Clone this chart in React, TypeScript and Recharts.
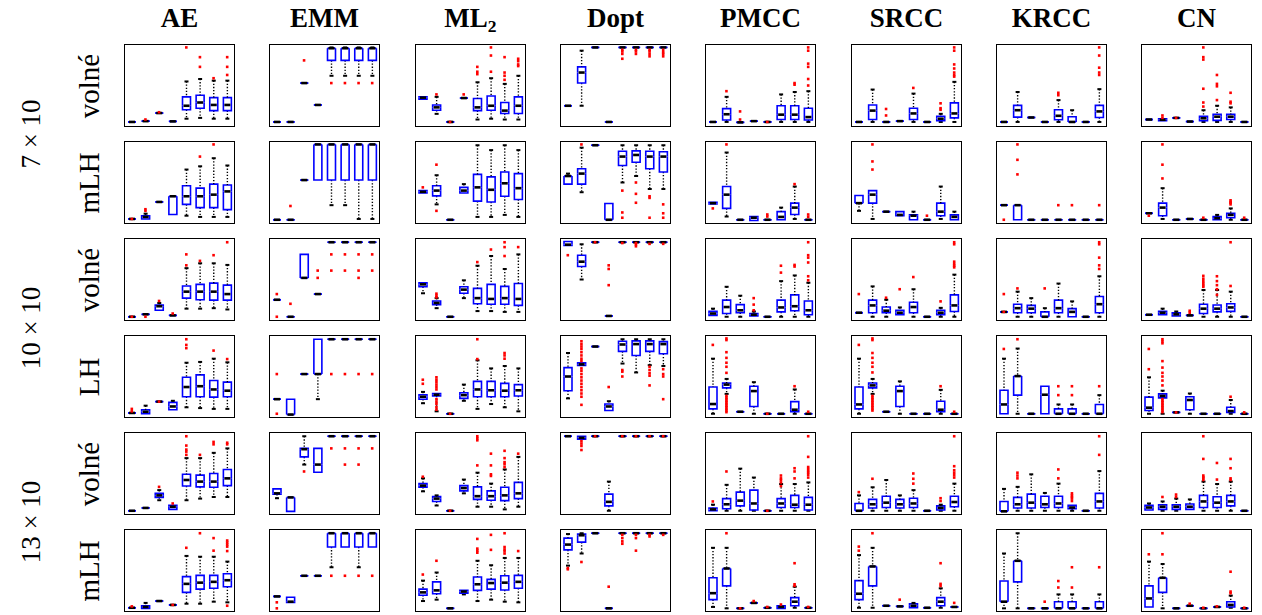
import React from 'react';
import { ComposedChart, XAxis, YAxis, Bar, Scatter } from 'recharts';

// box = [lowWhisker, q1, median, q3, highWhisker, outliers?] on a 0..1 scale
type Box = [number, number, number, number, number, number[]?];
const F = (v: number, o?: number[]): Box => [v, v, v, v, v, o];

const COLUMNS = ['AE', 'EMM', 'ML2', 'Dopt', 'PMCC', 'SRCC', 'KRCC', 'CN'];
const ROW_LABELS = ['volné', 'mLH', 'volné', 'LH', 'volné', 'mLH'];
const GROUP_LABELS = ['7 × 10', '10 × 10', '13 × 10'];
const X_TICKS = [1, 2, 3, 4, 5, 6, 7, 8];

// ---- 7 x 10, volné
const ae7v: Box[] = [F(0.05), F(0.06, [0.08]), F(0.16, [0.17]), F(0.057),
  [0.09, 0.2, 0.25, 0.36, 0.55, [0.97]], [0.1, 0.22, 0.29, 0.38, 0.58, [0.85, 0.73]],
  [0.09, 0.19, 0.26, 0.35, 0.56, [0.59]], [0.09, 0.19, 0.26, 0.35, 0.56, [0.85, 0.73, 0.63]]];
const emm7v: Box[] = [F(0.05), F(0.05), F(0.53, [0.81]), F(0.26),
  [0.62, 0.81, 0.96, 0.96, 0.97, [0.53]], [0.62, 0.81, 0.96, 0.96, 0.97, [0.53]],
  [0.62, 0.81, 0.96, 0.96, 0.97, [0.53]], [0.62, 0.81, 0.96, 0.96, 0.97, [0.53]]];
const ml7v: Box[] = [[0.33, 0.33, 0.35, 0.36, 0.36], [0.15, 0.195, 0.23, 0.26, 0.36, [0.39]], F(0.05, [0.05]), F(0.345, [0.39]),
  [0.08, 0.19, 0.23, 0.34, 0.54, [0.73, 0.67, 0.64]], [0.09, 0.195, 0.25, 0.37, 0.59, [0.97, 0.87, 0.67]],
  [0.08, 0.155, 0.19, 0.29, 0.52, [0.85, 0.66, 0.62, 0.57]], [0.08, 0.155, 0.25, 0.36, 0.62, [0.83, 0.8, 0.76, 0.74]]];
const dopt7v: Box[] = [F(0.25), [0.25, 0.53, 0.66, 0.73, 0.93], F(0.97), F(0.05),
  F(0.97, [0.94, 0.92, 0.89, 0.83]), F(0.97, [0.94, 0.92, 0.89]),
  F(0.97, [0.94, 0.92, 0.89, 0.86]), F(0.97, [0.94, 0.91, 0.89, 0.86])];
const pmcc7v: Box[] = [F(0.05), [0.05, 0.075, 0.145, 0.215, 0.36, [0.43]], F(0.045, [0.18, 0.08]), F(0.06),
  F(0.05, [0.05]), [0.05, 0.08, 0.14, 0.25, 0.39], [0.05, 0.08, 0.14, 0.25, 0.42, [0.53, 0.51]],
  [0.05, 0.075, 0.11, 0.22, 0.43, [0.97, 0.93, 0.77, 0.73, 0.58, 0.5]]];
const srcc7v: Box[] = [F(0.05), [0.05, 0.08, 0.19, 0.26, 0.45], F(0.05, [0.21, 0.13]), F(0.06),
  [0.05, 0.08, 0.155, 0.22, 0.4, [0.47]], F(0.05), [0.05, 0.065, 0.09, 0.12, 0.15, [0.28, 0.22, 0.2]],
  [0.05, 0.1, 0.155, 0.285, 0.545, [0.97, 0.93, 0.76, 0.71, 0.66, 0.63, 0.61]]];
const krcc7v: Box[] = [F(0.05), [0.05, 0.11, 0.195, 0.255, 0.42], F(0.105), F(0.05),
  [0.05, 0.077, 0.126, 0.2, 0.32, [0.41, 0.38]], [0.05, 0.05, 0.05, 0.114, 0.195], F(0.05),
  [0.05, 0.105, 0.18, 0.255, 0.455, [0.97, 0.87, 0.72, 0.66, 0.63]]];
const cn7v: Box[] = [F(0.08), [0.065, 0.065, 0.077, 0.09, 0.09, [0.13, 0.1]], F(0.1, [0.1]), F(0.055),
  [0.05, 0.065, 0.095, 0.12, 0.195, [0.97, 0.85, 0.82, 0.46, 0.29, 0.24]],
  [0.05, 0.07, 0.115, 0.145, 0.25, [0.63, 0.52, 0.49, 0.32]],
  [0.05, 0.08, 0.115, 0.145, 0.23, [0.41, 0.3, 0.28]], F(0.05)];

// ---- 7 x 10, mLH
const ae7m: Box[] = [F(0.05, [0.05]), [0.05, 0.05, 0.075, 0.09, 0.115, [0.17, 0.15]], F(0.26), [0.105, 0.105, 0.33, 0.33, 0.33],
  [0.09, 0.23, 0.33, 0.46, 0.66], [0.075, 0.19, 0.33, 0.43, 0.7, [0.82]],
  [0.075, 0.19, 0.35, 0.48, 0.8, [0.97]], [0.075, 0.165, 0.39, 0.47, 0.71]];
const emm7m: Box[] = [F(0.04), F(0.04, [0.21]), F(0.53), [0.53, 0.53, 0.97, 0.97, 0.97],
  [0.22, 0.53, 0.97, 0.97, 0.97], [0.22, 0.53, 0.97, 0.97, 0.97],
  [0.05, 0.53, 0.97, 0.97, 0.97], [0.05, 0.53, 0.97, 0.97, 0.97]];
const ml7m: Box[] = [[0.37, 0.37, 0.385, 0.4, 0.4, [0.44]], [0.23, 0.335, 0.4, 0.46, 0.59, [0.72, 0.15]], F(0.04), [0.37, 0.37, 0.4, 0.44, 0.48],
  [0.075, 0.27, 0.44, 0.6, 0.96], [0.075, 0.26, 0.41, 0.57, 0.9],
  [0.1, 0.33, 0.49, 0.63, 0.96], [0.075, 0.29, 0.43, 0.61, 0.9]];
const dopt7m: Box[] = [[0.48, 0.48, 0.58, 0.58, 0.61], [0.38, 0.48, 0.61, 0.67, 0.93, [0.97]], F(0.96), [0.04, 0.04, 0.04, 0.24, 0.24],
  [0.5, 0.71, 0.82, 0.885, 0.96, [0.4, 0.13, 0.065]], [0.58, 0.75, 0.84, 0.89, 0.96, [0.5, 0.36, 0.25]],
  [0.42, 0.67, 0.82, 0.885, 0.96, [0.33, 0.31, 0.065]], [0.42, 0.63, 0.82, 0.88, 0.96, [0.23, 0.12, 0.065]]];
const pmcc7m: Box[] = [[0.235, 0.235, 0.245, 0.255, 0.255, [0.18]], [0.08, 0.18, 0.35, 0.45, 0.87, [0.97]], F(0.04), [0.03, 0.03, 0.065, 0.08, 0.08],
  F(0.04, [0.105, 0.08]), [0.04, 0.04, 0.075, 0.14, 0.19], [0.05, 0.105, 0.19, 0.245, 0.45, [0.48]], F(0.04, [0.105, 0.075])];
const srcc7m: Box[] = [[0.15, 0.245, 0.245, 0.34, 0.34], [0.05, 0.245, 0.35, 0.4, 0.4, [0.97, 0.76, 0.66]], F(0.14), [0.09, 0.09, 0.1, 0.14, 0.14],
  [0.04, 0.04, 0.09, 0.1, 0.14], F(0.04, [0.09]), [0.05, 0.09, 0.14, 0.245, 0.45], [0.04, 0.04, 0.075, 0.1, 0.14]];
const krcc7m: Box[] = [F(0.22, [0.04]), [0.04, 0.04, 0.22, 0.22, 0.22, [0.97, 0.78, 0.6]], F(0.04), F(0.04),
  F(0.04, [0.22]), F(0.04, [0.22]), F(0.04), F(0.04, [0.22])];
const cn7m: Box[] = [F(0.12, [0.09]), [0.05, 0.09, 0.19, 0.245, 0.43, [0.97, 0.72, 0.55]], F(0.04), F(0.05),
  F(0.04, [0.065]), [0.04, 0.04, 0.06, 0.08, 0.1], [0.04, 0.065, 0.1, 0.12, 0.18, [0.28, 0.26, 0.25, 0.23]], F(0.04, [0.065])];

// ---- 10 x 10, volné
const ae10v: Box[] = [F(0.04, [0.04]), F(0.07, [0.04]), [0.12, 0.12, 0.17, 0.185, 0.21, [0.235]], F(0.057, [0.08]),
  [0.14, 0.27, 0.35, 0.42, 0.64, [0.81, 0.675]], [0.14, 0.25, 0.35, 0.44, 0.7, [0.73]],
  [0.146, 0.245, 0.35, 0.455, 0.7, [0.8]], [0.13, 0.245, 0.32, 0.43, 0.68, [0.96]]];
const emm10v: Box[] = [F(0.25, [0.32, 0.04]), F(0.04, [0.2]), [0.52, 0.52, 0.52, 0.81, 0.81], F(0.32, [0.61, 0.52]),
  F(0.96, [0.81, 0.61]), F(0.96, [0.81, 0.61]), F(0.96, [0.81, 0.61, 0.52]), F(0.96, [0.81, 0.61])];
const ml10v: Box[] = [[0.33, 0.41, 0.44, 0.46, 0.46], [0.146, 0.19, 0.21, 0.235, 0.27, [0.325, 0.3, 0.28]], F(0.04), [0.27, 0.33, 0.375, 0.41, 0.49],
  [0.11, 0.2, 0.27, 0.39, 0.67, [0.715]], [0.11, 0.195, 0.26, 0.44, 0.79, [0.87]],
  [0.1, 0.195, 0.27, 0.415, 0.63, [0.96, 0.9, 0.79]], [0.1, 0.18, 0.26, 0.45, 0.81, [0.9]]];
const dopt10v: Box[] = [[0.92, 0.92, 0.93, 0.97, 0.97, [0.8]], [0.5, 0.66, 0.72, 0.8, 0.935], F(0.96, [0.96]), F(0.05, [0.675, 0.63, 0.43]),
  F(0.96, [0.95]), F(0.96, [0.95, 0.935, 0.91]), F(0.96, [0.94]), F(0.96, [0.94])];
const pmcc10v: Box[] = [[0.057, 0.057, 0.08, 0.106, 0.14], [0.04, 0.08, 0.16, 0.245, 0.41], [0.04, 0.09, 0.12, 0.19, 0.3],
  [0.05, 0.05, 0.065, 0.08, 0.105, [0.27, 0.19, 0.12]], F(0.04),
  [0.04, 0.1, 0.155, 0.245, 0.48, [0.67, 0.585]], [0.04, 0.115, 0.17, 0.31, 0.55, [0.68, 0.66]],
  [0.04, 0.065, 0.12, 0.235, 0.46, [0.96, 0.8, 0.77, 0.71, 0.54, 0.49]]];
const srcc10v: Box[] = [F(0.09, [0.32]), [0.04, 0.09, 0.18, 0.245, 0.415], [0.04, 0.09, 0.115, 0.16, 0.25, [0.275]],
  [0.065, 0.065, 0.09, 0.12, 0.155, [0.38]], [0.04, 0.09, 0.16, 0.22, 0.38, [0.53]], F(0.04),
  [0.04, 0.065, 0.09, 0.12, 0.15, [0.23]], [0.04, 0.105, 0.18, 0.31, 0.56, [0.96, 0.935, 0.72, 0.69, 0.67, 0.65]]];
const krcc10v: Box[] = [F(0.1, [0.32, 0.1]), [0.04, 0.09, 0.146, 0.195, 0.35, [0.39]], [0.04, 0.09, 0.14, 0.18, 0.27],
  [0.04, 0.04, 0.04, 0.1, 0.146, [0.39]], [0.04, 0.09, 0.146, 0.245, 0.45], [0.04, 0.04, 0.1, 0.14, 0.23], F(0.04),
  [0.04, 0.09, 0.195, 0.29, 0.54, [0.96, 0.935, 0.77, 0.675, 0.63]]];
const cn10v: Box[] = [F(0.065), [0.065, 0.065, 0.09, 0.106, 0.14], [0.05, 0.05, 0.07, 0.09, 0.105], F(0.057, [0.114, 0.09]),
  [0.04, 0.08, 0.14, 0.195, 0.37, [0.545, 0.51, 0.48, 0.455, 0.43, 0.41]],
  [0.04, 0.1, 0.14, 0.185, 0.37, [0.54, 0.48, 0.43, 0.38, 0.31]],
  [0.04, 0.106, 0.155, 0.2, 0.35, [0.96, 0.42]], F(0.04)];

// ---- 10 x 10, LH
const ae10l: Box[] = [F(0.05, [0.1, 0.07]), [0.04, 0.04, 0.065, 0.09, 0.14], F(0.19, [0.19]), [0.09, 0.09, 0.13, 0.18, 0.2],
  [0.12, 0.25, 0.37, 0.49, 0.67, [0.96, 0.89, 0.85]], [0.11, 0.25, 0.38, 0.52, 0.68],
  [0.1, 0.245, 0.34, 0.45, 0.72, [0.82]], [0.1, 0.25, 0.325, 0.43, 0.675, [0.715]]];
const emm10l: Box[] = [F(0.22, [0.53, 0.04]), [0.03, 0.03, 0.03, 0.22, 0.22], F(0.53), [0.22, 0.53, 0.53, 0.96, 0.96],
  F(0.96, [0.53]), F(0.96, [0.53]), F(0.96, [0.53]), F(0.96, [0.53])];
const ml10l: Box[] = [[0.17, 0.22, 0.25, 0.275, 0.31, [0.46, 0.41]],
  [0.07, 0.26, 0.275, 0.29, 0.29, [0.49, 0.46, 0.43, 0.4, 0.37, 0.34, 0.22, 0.19, 0.16, 0.12, 0.09]],
  F(0.04, [0.04]), [0.2, 0.23, 0.27, 0.3, 0.4], [0.1, 0.25, 0.34, 0.44, 0.7, [0.96, 0.715]], [0.16, 0.25, 0.33, 0.44, 0.6],
  [0.12, 0.25, 0.325, 0.415, 0.63, [0.79, 0.76, 0.72]], [0.07, 0.26, 0.33, 0.4, 0.6]];
const dopt10l: Box[] = [[0.23, 0.325, 0.5, 0.61, 0.79],
  [0.635, 0.635, 0.65, 0.67, 0.67, [0.935, 0.9, 0.87, 0.84, 0.8, 0.76, 0.72, 0.69, 0.6, 0.57, 0.53, 0.49, 0.45, 0.41, 0.37, 0.33, 0.29, 0.25, 0.15]],
  F(0.87), [0.08, 0.08, 0.13, 0.16, 0.195, [0.37]], [0.66, 0.81, 0.895, 0.935, 0.96, [0.58, 0.56, 0.5]],
  [0.55, 0.76, 0.9, 0.94, 0.96], [0.64, 0.81, 0.9, 0.94, 0.96, [0.62, 0.58, 0.54, 0.51, 0.39]],
  [0.63, 0.78, 0.9, 0.93, 0.96, [0.59, 0.53, 0.5, 0.22]]];
const pmcc10l: Box[] = [[0.04, 0.1, 0.16, 0.37, 0.72, [0.89]],
  [0.285, 0.36, 0.4, 0.42, 0.47, [0.97, 0.95, 0.8, 0.73, 0.67, 0.62, 0.545, 0.26, 0.24, 0.22, 0.2, 0.18, 0.16, 0.14, 0.12, 0.1, 0.08, 0.06]],
  F(0.065), [0.04, 0.13, 0.32, 0.38, 0.43], F(0.04, [0.04]), F(0.04), [0.04, 0.065, 0.09, 0.19, 0.34, [0.38]], F(0.04, [0.065])];
const srcc10l: Box[] = [[0.04, 0.1, 0.155, 0.37, 0.72, [0.89]],
  [0.285, 0.36, 0.39, 0.42, 0.47, [0.97, 0.95, 0.79, 0.73, 0.67, 0.62, 0.55, 0.26, 0.24, 0.22, 0.2, 0.18, 0.16, 0.14, 0.12, 0.1, 0.08]],
  F(0.065), [0.04, 0.13, 0.32, 0.38, 0.44], F(0.04), F(0.04), [0.04, 0.065, 0.09, 0.195, 0.335, [0.38]], F(0.04, [0.065])];
const krcc10l: Box[] = [[0.04, 0.04, 0.155, 0.33, 0.72, [0.84]], [0.04, 0.27, 0.505, 0.505, 0.845, [0.96]], F(0.04),
  [0.04, 0.04, 0.275, 0.38, 0.38], [0.04, 0.04, 0.04, 0.1, 0.155, [0.38, 0.27]], [0.04, 0.04, 0.04, 0.1, 0.155, [0.38, 0.27]],
  F(0.04), [0.04, 0.04, 0.04, 0.155, 0.27, [0.38]]];
const cn10l: Box[] = [[0.04, 0.08, 0.115, 0.245, 0.49, [0.84, 0.59]],
  [0.04, 0.236, 0.26, 0.285, 0.325, [0.96, 0.935, 0.91, 0.69, 0.61, 0.545, 0.5, 0.45, 0.39, 0.22, 0.2, 0.18, 0.16, 0.14, 0.12, 0.1, 0.08, 0.06]],
  F(0.057, [0.057]), [0.04, 0.09, 0.21, 0.25, 0.29], F(0.04), F(0.04), [0.04, 0.057, 0.073, 0.12, 0.21, [0.25]], F(0.04, [0.057])];

// ---- 13 x 10, volné
const ae13v: Box[] = [F(0.04), F(0.075), [0.17, 0.205, 0.23, 0.255, 0.295, [0.335]], [0.057, 0.057, 0.09, 0.107, 0.11, [0.13]],
  [0.17, 0.345, 0.42, 0.49, 0.69, [0.96, 0.845, 0.795, 0.77, 0.73]], [0.19, 0.335, 0.4, 0.48, 0.69, [0.73]],
  [0.21, 0.33, 0.4, 0.5, 0.755, [0.89, 0.86]], [0.21, 0.35, 0.44, 0.55, 0.81, [0.88, 0.86]]];
const emm13v: Box[] = [[0.195, 0.245, 0.255, 0.31, 0.31], [0.033, 0.033, 0.205, 0.205, 0.205],
  [0.61, 0.705, 0.8, 0.81, 0.96, [0.525]], [0.515, 0.515, 0.61, 0.81, 0.81],
  F(0.96, [0.81]), F(0.96, [0.81, 0.61]), F(0.96, [0.81, 0.61]), F(0.96, [0.81])];
const ml13v: Box[] = [[0.28, 0.33, 0.35, 0.375, 0.44, [0.46]], [0.105, 0.155, 0.19, 0.215, 0.23], F(0.04, [0.04]),
  [0.255, 0.285, 0.32, 0.35, 0.425], [0.09, 0.18, 0.22, 0.335, 0.51, [0.96, 0.935, 0.91, 0.6]],
  [0.09, 0.17, 0.22, 0.285, 0.375, [0.745, 0.6, 0.49, 0.47]],
  [0.057, 0.165, 0.23, 0.33, 0.55, [0.78, 0.69, 0.64, 0.615, 0.58]], [0.09, 0.19, 0.255, 0.39, 0.705, [0.745]]];
const dopt13v: Box[] = [F(0.96), [0.925, 0.925, 0.94, 0.96, 0.96, [0.9, 0.87, 0.84, 0.79]], F(0.96, [0.96]),
  [0.04, 0.1, 0.15, 0.245, 0.4], F(0.96, [0.96]), F(0.96, [0.96]), F(0.96, [0.96]), F(0.96, [0.96])];
const pmcc13v: Box[] = [[0.04, 0.04, 0.057, 0.075, 0.115, [0.155]], [0.04, 0.065, 0.12, 0.19, 0.36, [0.525]],
  [0.04, 0.1, 0.165, 0.27, 0.56], [0.04, 0.05, 0.13, 0.295, 0.45], F(0.04, [0.04]),
  [0.04, 0.08, 0.13, 0.19, 0.37, [0.475, 0.44, 0.42, 0.39, 0.345]], [0.04, 0.08, 0.115, 0.23, 0.37, [0.565, 0.525, 0.44]],
  [0.04, 0.05, 0.115, 0.205, 0.39, [0.96, 0.705, 0.58, 0.555, 0.53, 0.51, 0.485, 0.45]]];
const srcc13v: Box[] = [[0.04, 0.04, 0.04, 0.13, 0.23, [0.27]], [0.04, 0.075, 0.12, 0.18, 0.33, [0.435]],
  [0.04, 0.08, 0.14, 0.22, 0.42], [0.04, 0.075, 0.12, 0.18, 0.23], [0.04, 0.08, 0.13, 0.195, 0.295, [0.5, 0.435, 0.375]],
  F(0.04), [0.04, 0.05, 0.075, 0.1, 0.115, [0.195, 0.16]], [0.04, 0.09, 0.148, 0.22, 0.375, [0.96, 0.59, 0.54, 0.51, 0.48, 0.45]]];
const krcc13v: Box[] = [[0.033, 0.033, 0.033, 0.155, 0.31], [0.04, 0.075, 0.12, 0.205, 0.335, [0.51, 0.475, 0.44]],
  [0.04, 0.075, 0.14, 0.245, 0.49], [0.04, 0.08, 0.12, 0.22, 0.26], [0.04, 0.08, 0.13, 0.22, 0.375, [0.55, 0.44]],
  [0.04, 0.065, 0.08, 0.107, 0.11, [0.255, 0.23, 0.21, 0.19, 0.16]], F(0.04), [0.04, 0.075, 0.155, 0.255, 0.53, [0.96, 0.73]]];
const cn13v: Box[] = [[0.05, 0.05, 0.08, 0.107, 0.13], [0.04, 0.057, 0.09, 0.115, 0.155, [0.21]],
  [0.04, 0.057, 0.09, 0.115, 0.19, [0.24, 0.21]], [0.057, 0.057, 0.09, 0.123, 0.18],
  [0.04, 0.08, 0.155, 0.23, 0.4, [0.96, 0.68, 0.475, 0.455, 0.44, 0.42]], [0.04, 0.08, 0.14, 0.213, 0.37, [0.63, 0.425]],
  [0.04, 0.1, 0.155, 0.23, 0.4, [0.68, 0.565, 0.44, 0.42]], F(0.04)];

// ---- 13 x 10, mLH
const ae13m: Box[] = [F(0.04, [0.057]), [0.033, 0.033, 0.05, 0.065, 0.1], F(0.123), F(0.075, [0.075]),
  [0.09, 0.23, 0.335, 0.425, 0.68, [0.78]], [0.09, 0.27, 0.35, 0.44, 0.67, [0.96]],
  [0.115, 0.28, 0.36, 0.44, 0.67, [0.9, 0.745]], [0.107, 0.3, 0.38, 0.46, 0.61, [0.87, 0.845, 0.82, 0.795, 0.74, 0.065]]];
const emm13m: Box[] = [F(0.18, [0.107, 0.033]), [0.107, 0.107, 0.115, 0.17, 0.17], F(0.435), F(0.435),
  [0.54, 0.79, 0.96, 0.96, 0.96, [0.435]], [0.79, 0.79, 0.96, 0.96, 0.96, [0.435]],
  [0.54, 0.79, 0.96, 0.96, 0.96, [0.435]], [0.79, 0.79, 0.96, 0.96, 0.96, [0.435]]];
const ml13m: Box[] = [[0.123, 0.195, 0.23, 0.27, 0.375, [0.45]], [0.14, 0.213, 0.255, 0.36, 0.475, [0.62]], F(0.033),
  [0.205, 0.22, 0.24, 0.255, 0.255], [0.123, 0.255, 0.33, 0.42, 0.62, [0.89, 0.77, 0.745, 0.72]],
  [0.14, 0.27, 0.345, 0.39, 0.565, [0.94, 0.755]], [0.115, 0.26, 0.35, 0.435, 0.655, [0.96, 0.79, 0.76, 0.74, 0.71]],
  [0.107, 0.28, 0.36, 0.44, 0.655, [0.74]]];
const dopt13m: Box[] = [[0.56, 0.755, 0.82, 0.9, 0.95, [0.53, 0.515]], [0.71, 0.85, 0.935, 0.95, 0.96, [0.605]], F(0.96),
  F(0.033, [0.3]), F(0.96, [0.94, 0.9, 0.86, 0.83]), F(0.96, [0.94, 0.9, 0.745]), F(0.96, [0.94, 0.92]), F(0.96, [0.94])];
const pmcc13m: Box[] = [[0.05, 0.14, 0.22, 0.41, 0.78], [0.033, 0.31, 0.525, 0.525, 0.78, [0.96]], F(0.033, [0.033]),
  F(0.1, [0.123]), F(0.04, [0.05]), [0.033, 0.033, 0.05, 0.065, 0.065, [0.08]],
  [0.04, 0.065, 0.115, 0.165, 0.3, [0.59, 0.33, 0.31]], F(0.04, [0.05])];
const srcc13m: Box[] = [[0.04, 0.14, 0.213, 0.375, 0.69, [0.795, 0.745]], [0.04, 0.31, 0.55, 0.55, 0.78, [0.96]], F(0.065),
  F(0.057, [0.14]), [0.04, 0.04, 0.065, 0.09, 0.1], F(0.04), [0.04, 0.065, 0.115, 0.165, 0.28, [0.59, 0.335, 0.31]], F(0.05, [0.1])];
const krcc13m: Box[] = [[0.033, 0.115, 0.115, 0.37, 0.71], [0.033, 0.36, 0.62, 0.62, 0.96], F(0.033), F(0.033, [0.115]),
  [0.033, 0.033, 0.033, 0.115, 0.205, [0.37, 0.29]], [0.033, 0.033, 0.033, 0.115, 0.205, [0.54, 0.29]],
  F(0.033), [0.033, 0.033, 0.033, 0.115, 0.205, [0.54]]];
const cn13m: Box[] = [[0.05, 0.05, 0.155, 0.31, 0.61, [0.7]], [0.033, 0.23, 0.41, 0.41, 0.58, [0.96, 0.7]], F(0.033),
  F(0.065, [0.09]), F(0.033, [0.04]), F(0.05, [0.057]), [0.04, 0.05, 0.075, 0.115, 0.19, [0.485, 0.24, 0.22]], F(0.033, [0.04])];

const GRID: Box[][][] = [
  [ae7v, emm7v, ml7v, dopt7v, pmcc7v, srcc7v, krcc7v, cn7v],
  [ae7m, emm7m, ml7m, dopt7m, pmcc7m, srcc7m, krcc7m, cn7m],
  [ae10v, emm10v, ml10v, dopt10v, pmcc10v, srcc10v, krcc10v, cn10v],
  [ae10l, emm10l, ml10l, dopt10l, pmcc10l, srcc10l, krcc10l, cn10l],
  [ae13v, emm13v, ml13v, dopt13v, pmcc13v, srcc13v, krcc13v, cn13v],
  [ae13m, emm13m, ml13m, dopt13m, pmcc13m, srcc13m, krcc13m, cn13m],
];

// layout
const PANEL_W = 111;
const PANEL_H = 83;
const colLeft = (c: number) => Math.round(124 + c * 145.3);
const rowTop = (r: number) => 44 + r * 97;
const BLUE = '#0000ff';
const SERIF = '"Liberation Serif", "DejaVu Serif", serif';

const Hidden = () => <g />;

const Whisker = (upper: boolean) => (p: any) => {
  const { x, y, width, height } = p;
  if (!(height > 0.3)) return <g />;
  const cx = x + width / 2;
  const capY = upper ? y : y + height;
  return (
    <g>
      <line x1={cx} x2={cx} y1={y} y2={y + height} stroke="#000" strokeWidth={1.4} strokeDasharray="1.3 1.8" />
      <line x1={cx - 2} x2={cx + 2} y1={capY} y2={capY} stroke="#000" strokeWidth={2} />
    </g>
  );
};

// lower half of the box (q1 -> median)
const BoxLow = (p: any) => {
  const { x, y, width: w, height: h } = p;
  return <path d={`M${x},${y} V${y + h} H${x + w} V${y}`} fill="none" stroke={BLUE} strokeWidth={1.6} />;
};

// upper half of the box (median -> q3) plus the median line
const BoxHigh = (p: any) => {
  const { x, y, width: w, height: h } = p;
  return (
    <g>
      <path d={`M${x},${y + h} V${y} H${x + w} V${y + h}`} fill="none" stroke={BLUE} strokeWidth={1.6} />
      <line x1={x + 1} x2={x + w - 1} y1={y + h} y2={y + h} stroke="#000" strokeWidth={2.6} />
    </g>
  );
};

const Outlier = (p: any) => <rect x={p.cx - 1.3} y={p.cy - 1.3} width={2.6} height={2.6} fill="#ff0000" />;

const Panel: React.FC<{ boxes: Box[]; left: number; top: number }> = ({ boxes, left, top }) => {
  const data = boxes.map((b, i) => ({
    x: i + 1,
    base: b[0],
    w1: Math.max(0, b[1] - b[0]),
    b1: Math.max(0, b[2] - b[1]),
    b2: Math.max(0, b[3] - b[2]),
    w2: Math.max(0, b[4] - b[3]),
  }));
  const outs = boxes.flatMap((b, i) => (b[5] || []).map((v) => ({ x: i + 1, v })));
  return (
    <div style={{ position: 'absolute', left, top, width: PANEL_W - 2, height: PANEL_H - 2, border: '1px solid #000' }}>
      <ComposedChart width={PANEL_W - 2} height={PANEL_H - 2} data={data} margin={{ top: 0, right: 0, bottom: 0, left: 0 }}>
        <XAxis type="number" dataKey="x" domain={[0.5, 8.5]} ticks={X_TICKS} allowDataOverflow hide />
        <YAxis type="number" domain={[0, 1]} allowDataOverflow hide />
        <Bar dataKey="base" stackId="s" barSize={8} shape={Hidden} isAnimationActive={false} />
        <Bar dataKey="w1" stackId="s" barSize={8} shape={Whisker(false)} isAnimationActive={false} />
        <Bar dataKey="b1" stackId="s" barSize={8} shape={BoxLow} isAnimationActive={false} />
        <Bar dataKey="b2" stackId="s" barSize={8} shape={BoxHigh} isAnimationActive={false} />
        <Bar dataKey="w2" stackId="s" barSize={8} shape={Whisker(true)} isAnimationActive={false} />
        <Scatter data={outs} dataKey="v" shape={Outlier} isAnimationActive={false} />
      </ComposedChart>
    </div>
  );
};

const Header: React.FC<{ name: string }> = ({ name }) =>
  name === 'ML2' ? <span>ML<sub style={{ fontSize: '0.65em', verticalAlign: '-0.3em' }}>2</sub></span> : <span>{name}</span>;

const App: React.FC = () => {
  const rotated = (cx: number, cy: number, size: number): React.CSSProperties => ({
    position: 'absolute',
    left: cx,
    top: cy,
    transform: 'translate(-50%, -50%) rotate(-90deg)',
    whiteSpace: 'nowrap',
    fontSize: size,
    lineHeight: `${size}px`,
  });

  return (
    <div style={{ position: 'absolute', left: 0, top: 0, width: 1262, height: 615, background: '#fff', fontFamily: SERIF, color: '#000', overflow: 'hidden' }}>
      {COLUMNS.map((name, c) => (
        <div
          key={name}
          style={{ position: 'absolute', left: colLeft(c), top: 5, width: PANEL_W, textAlign: 'center', fontSize: 27, lineHeight: '27px', fontWeight: 'bold' }}
        >
          <Header name={name} />
        </div>
      ))}

      {ROW_LABELS.map((label, r) => (
        <div key={`row-${r}`} style={rotated(89, rowTop(r) + PANEL_H / 2, 29)}>{label}</div>
      ))}

      {GROUP_LABELS.map((label, g) => (
        <div key={label} style={rotated(31, rowTop(g * 2) + PANEL_H / 2 + 48.5, 27)}>{label}</div>
      ))}

      {GRID.map((row, r) =>
        row.map((boxes, c) => <Panel key={`${r}-${c}`} boxes={boxes} left={colLeft(c)} top={rowTop(r)} />)
      )}
    </div>
  );
};

export default App;
